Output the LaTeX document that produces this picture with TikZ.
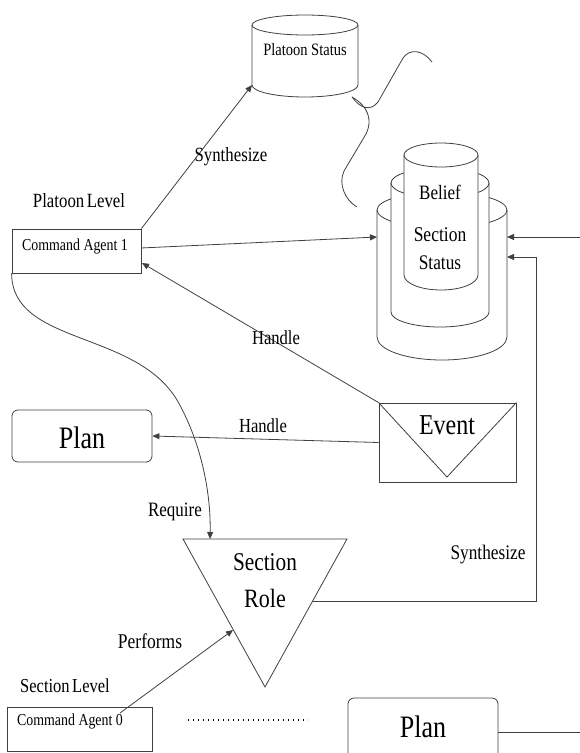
\documentclass[tikz,border=0pt]{standalone}
\usepackage{fontspec}
\usepackage{graphicx}
\setmainfont{Liberation Serif}
\usetikzlibrary{arrows.meta}

% tall, narrow lettering
\newcommand{\tallt}[1]{\scalebox{1}[1.2]{#1}}
% cylinder: centre x, top y, bottom y, x radius, top y radius, bottom y radius
\newcommand{\drawcyl}[6]{%
  \fill[white] (#1-#4,#2) -- (#1-#4,#3)
     arc[start angle=180,end angle=0,x radius=#4,y radius=#6]
     -- (#1+#4,#2) arc[start angle=0,end angle=-180,x radius=#4,y radius=#5] -- cycle;
  \draw[ln] (#1-#4,#2) -- (#1-#4,#3)
     arc[start angle=180,end angle=0,x radius=#4,y radius=#6] -- (#1+#4,#2);
  \draw[ln] (#1,#2) ellipse[x radius=#4,y radius=#5];
}

\begin{document}
\begin{tikzpicture}[x=1pt,y=-1pt,
  ln/.style={draw=black!75,line width=0.8pt},
  arr/.style={ln,-{Triangle[length=7pt,width=6pt]}},
  txt/.style={inner sep=0pt,text=black},
  fs/.style={font=\fontsize{#1}{#1}\selectfont},
  box/.style={ln,fill=white,rectangle,inner sep=0pt},
  planbox/.style={box,rounded corners=6pt,minimum width=140pt,minimum height=52pt}]
\useasboundingbox (0,0) rectangle (580,753);

% ---- Platoon status store ----
\drawcyl{305}{25}{85}{53}{10}{12}
\node[txt,fs=14.5] (pst) at (305,50) {\tallt{Platoon Status}};
\coordinate (psbl) at (252,85);

% ---- brace ----
\draw[ln] (352,97) .. controls (360,108) and (370,112) .. (378,102)
   -- (403,58) .. controls (410,48) and (423,50) .. (432,62);
\draw[ln] (352,97) .. controls (368,106) and (373,120) .. (366,134)
   -- (344,171) .. controls (338,184) and (345,200) .. (357,207);

% ---- nested belief stores ----
\drawcyl{442}{210}{337}{65}{18}{23}
\drawcyl{440}{183}{312}{49}{15}{15}
\drawcyl{441}{155}{275}{37}{12}{15}
\node[txt,fs=17] (bel) at (440,192) {\tallt{Belief}};
\node[txt,fs=17.5] (sst1) at (440,235) {\tallt{Section}};
\node[txt,fs=17.3] (sst2) at (440,263) {\tallt{Status}};
\coordinate (bl) at (377,237);
\coordinate (br1) at (507,237);
\coordinate (br2) at (507,257);

% ---- command agent 1 ----
\node[txt,fs=16.8] (plev) at (79,201) {\tallt{Platoon\hspace{2.5pt}Level}};
\node[box,minimum width=129pt,minimum height=44pt] (ca1) at (76.5,251) {};
\node[txt,fs=13.9] (ca1t) at (75,247) {\tallt{Command Agent 1}};

% ---- event ----
\node[box,minimum width=137pt,minimum height=79pt] (ev) at (447.5,442.5) {};
\coordinate (evv) at (447,477);
\draw[ln] (ev.north west) -- (evv) -- (ev.north east);
\node[txt,fs=24] (evt) at (447,425) {\tallt{Event}};

% ---- plans ----
\node[planbox] (plan1) at (82,436) {};
\node[txt,fs=26] (plan1t) at (82,438) {\tallt{Plan}};
\node[planbox,minimum width=150pt,minimum height=66pt] (plan2) at (423,731) {};
\node[txt,fs=26] (plan2t) at (423,727) {\tallt{Plan}};

% ---- section role ----
\coordinate (srl) at (183,539);
\coordinate (srr) at (347,539);
\coordinate (srb) at (265,687);
\draw[ln,fill=white] (srl) -- (srr) -- (srb) -- cycle;
\node[txt,fs=21.3] (sr1) at (265,562) {\tallt{Section}};
\node[txt,fs=22] (sr2) at (265,598) {\tallt{Role}};
\coordinate (srtop) at (210,539);
\coordinate (srleft) at (233,630);
\coordinate (srright) at (313,601);

% ---- command agent 0 ----
\node[txt,fs=16.5] (slev) at (65,686) {\tallt{Section\hspace{2.5pt}Level}};
\node[box,minimum width=145pt,minimum height=44pt] (ca0) at (79.5,729) {};
\node[txt,fs=13.9] (ca0t) at (70,722) {\tallt{Command Agent 0}};
\coordinate (ca0p) at (120,713);
\coordinate (dot1) at (188,720);
\coordinate (dot2) at (308,720);
\draw[black,line width=1.4pt,dash pattern=on 1.4pt off 3.6pt] (dot1) -- (dot2);

% ---- connectors ----
\draw[arr] (ca1.north east) -- (psbl);
\node[txt,fs=16.8] (syn1) at (231,157) {\tallt{Synthesize}};
\draw[arr] (141,248) -- (bl);
\draw[arr] (ev.north west) -- (142,263);
\node[txt,fs=16.6] (h1) at (276,338) {\tallt{Handle}};
\draw[arr] (ev.west) -- (plan1.east);
\node[txt,fs=16.6] (h2) at (263,426) {\tallt{Handle}};
\draw[arr] (ca1.south west) .. controls (12,345) and (135,330) .. (177,400)
   .. controls (200,440) and (211,490) .. (srtop);
\node[txt,fs=17] (req) at (175,512) {\tallt{Require}};
\draw[arr] (ca0p) -- (srleft);
\node[txt,fs=17.5] (perf) at (150,641) {\tallt{Performs}};
\coordinate (sc1) at (536,601);
\coordinate (sc2) at (536,257);
\draw[arr] (srright) -- (sc1) -- (sc2) -- (br2);
\node[txt,fs=17.3] (syn2) at (488,555) {\tallt{Synthesize}};
\coordinate (edge1) at (580,732);
\coordinate (edge2) at (580,237);
\draw[ln] (plan2.east |- edge1) -- (edge1);
\draw[arr] (edge2) -- (br1);
\end{tikzpicture}
\end{document}
